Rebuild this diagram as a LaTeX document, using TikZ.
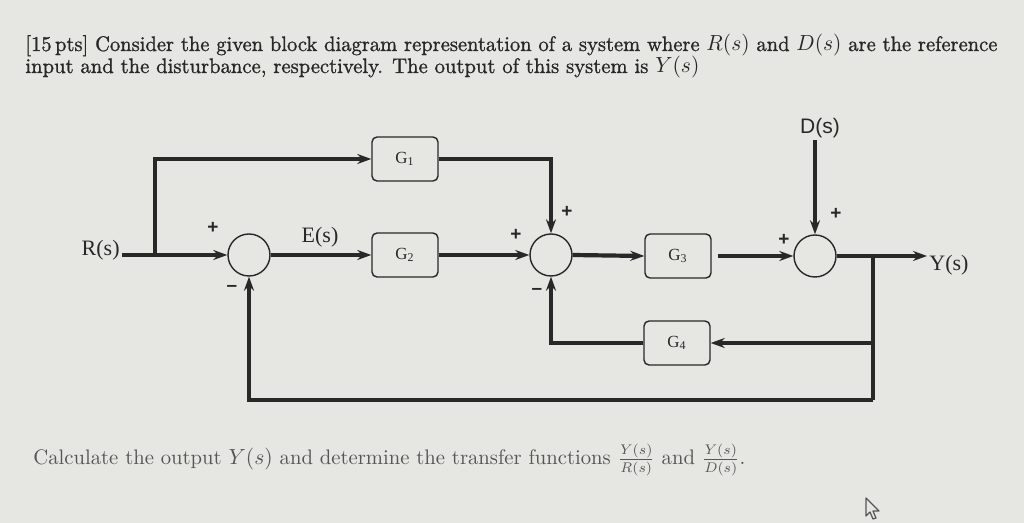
\documentclass[tikz,border=0pt]{standalone}
\usepackage{fontspec}
\newfontfamily\serifL{Liberation Serif}
\newfontfamily\sansL{Liberation Sans}
\newfontfamily\titleF{Latin Modern Roman}[FakeBold=1.1]
\usetikzlibrary{arrows.meta}
\definecolor{bg}{RGB}{230,230,226}
\definecolor{ink}{RGB}{40,40,40}
\definecolor{ink2}{RGB}{85,85,85}
\tikzset{
  blk/.style={draw=ink, line width=0.7pt, rounded corners=2.5pt, minimum width=33pt, minimum height=22pt, inner sep=0pt, text=ink, font=\serifL\fontsize{8.5}{9}\selectfont},
  sumnode/.style={circle, draw=ink, line width=0.7pt, minimum size=21pt, inner sep=0pt},
  sig/.style={draw=ink, line width=2.1pt, -{Stealth[length=7pt,width=5pt]}},
  wire/.style={draw=ink, line width=2.1pt},
  lbl/.style={text=ink, inner sep=1pt},
  sgn/.style={text=ink, inner sep=0pt, font=\sansL\bfseries\fontsize{9.5}{10}\selectfont},
  txt/.style={text=ink, inner sep=0pt, anchor=base west},
}
\begin{document}
\begin{tikzpicture}[x=0.5pt,y=-0.5pt]
\fill[bg] (0,0) rectangle (1024,523);
\useasboundingbox (0,0) rectangle (1024,523);

% title
\node[txt] (t1) at (25,51) {\titleF\fontsize{10.5}{12}\selectfont\resizebox{486pt}{\height}{[15\,pts] Consider the given block diagram representation of a system where $R(s)$ and $D(s)$ are the reference}};
\node[txt] (t2) at (25,73) {\titleF\fontsize{10.5}{12}\selectfont\resizebox{337pt}{\height}{input and the disturbance, respectively. The output of this system is $Y(s)$}};

% blocks
\node[sumnode] (s1) at (249,255) {};
\node[blk] (g1) at (405,159) {G\textsubscript{1}};
\node[blk] (g2) at (405,255) {G\textsubscript{2}};
\node[sumnode] (s2) at (551,255) {};
\node[blk] (g3) at (678,256) {G\textsubscript{3}};
\node[sumnode] (s3) at (815,256) {};
\node[blk] (g4) at (677,343) {G\textsubscript{4}};

% labels
\node[lbl, anchor=east] (rl) at (122,250) {\serifL\fontsize{11}{12}\selectfont R(s)};
\node[lbl] (el) at (320,237) {\serifL\fontsize{11}{12}\selectfont E(s)};
\node[lbl] (dl) at (820,128) {\sansL\fontsize{10.5}{12}\selectfont D(s)};
\node[lbl, anchor=west] (yl) at (927,265) {\serifL\fontsize{11}{12}\selectfont Y(s)};

\coordinate (br) at (155,255);
\coordinate (tap) at (873,256);
\coordinate (bot) at (873,400);

% connectors
\draw[sig] (rl.east |- s1) -- (s1.west);
\draw[sig] (br) |- (g1.west);
\draw[sig] (g1.east) -| (s2.north);
\draw[sig] (s1.east) -- (g2.west);
\draw[sig] (g2.east) -- (s2.west);
\draw[sig] (s2.east) -- (g3.west);
\draw[sig, shorten <=3pt] (g3.east) -- (s3.west);
\draw[sig] (s3.north |- dl.south) -- (s3.north);
\draw[sig] (s3.east) -- (yl.west |- s3);
\draw[wire] (tap) -- (bot);
\draw[sig] (bot) -| (s1.south);
\draw[sig] (tap |- g4.east) -- (g4.east);
\draw[sig] (g4.west) -| (s2.south);

% signs
\node[sgn] (p1) at (213,228) {+};
\node[sgn] (m1) at (232,288) {\textendash};
\node[sgn] (p2) at (516,235) {+};
\node[sgn] (p3) at (567,212) {+};
\node[sgn] (m2) at (537,291) {\textendash};
\node[sgn] (p4) at (784,240) {+};
\node[sgn] (p5) at (836,214) {+};

% bottom text
\node[txt, text=ink2] (t3) at (33,465) {\fontsize{10.5}{12}\selectfont\resizebox{356pt}{\height}{Calculate the output $Y(s)$ and determine the transfer functions $\frac{Y(s)}{R(s)}$ and $\frac{Y(s)}{D(s)}$.}};

% mouse cursor
\draw[ink2, line width=0.6pt, line join=round] (866,498) -- (866,516) -- (870,512) -- (873,519) -- (876,518) -- (873,511) -- (879,511) -- cycle;
\end{tikzpicture}
\end{document}
